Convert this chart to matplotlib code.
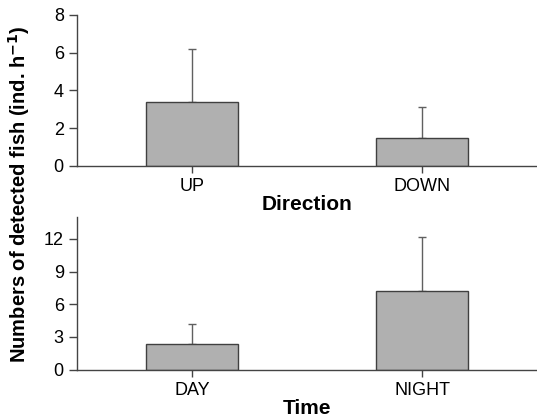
import matplotlib
matplotlib.use("Agg")
from matplotlib import pyplot as plt

plt.rcParams['font.family'] = ['Liberation Sans', 'DejaVu Sans']

# Data
dir_labels = ['UP', 'DOWN']
dir_means = [3.4, 1.5]
dir_err = [2.8, 1.6]

time_labels = ['DAY', 'NIGHT']
time_means = [2.4, 7.2]
time_err = [1.8, 5.0]

bar_color = '#b0b0b0'
edge_color = '#404040'
err_color = '#606060'

fig = plt.figure(figsize=(5.37, 4.2), dpi=100)
ax0 = fig.add_axes([0.1434, 0.6048, 0.8566, 0.3595])
ax1 = fig.add_axes([0.1434, 0.1198, 0.8566, 0.3635])


def draw(ax, labels, means, err, ylim, yticks, xlabel):
    x = range(len(labels))
    ax.bar(x, means, width=0.4, color=bar_color, edgecolor=edge_color,
           linewidth=1.0, zorder=2)
    ax.errorbar(x, means, yerr=[[0] * len(err), err], fmt='none',
                ecolor=err_color, elinewidth=1.0, capsize=3, capthick=1.0,
                zorder=1)
    ax.set_xlim(-0.5, 1.5)
    ax.set_ylim(*ylim)
    ax.set_yticks(yticks)
    ax.set_xticks(list(x))
    ax.set_xticklabels(labels)
    ax.set_xlabel(xlabel, fontsize=15, fontweight='bold', labelpad=0)
    ax.tick_params(axis='both', labelsize=13, direction='out', color='#444444')
    ax.tick_params(axis='y', length=5.5, width=1.0, pad=4)
    ax.tick_params(axis='x', length=5, width=1.0, pad=4)
    ax.spines['top'].set_visible(False)
    ax.spines['right'].set_visible(False)
    for s in ('left', 'bottom'):
        ax.spines[s].set_color('#444444')
        ax.spines[s].set_linewidth(1.0)


draw(ax0, dir_labels, dir_means, dir_err, (0, 8), [0, 2, 4, 6, 8], 'Direction')
draw(ax1, time_labels, time_means, time_err, (0, 14), [0, 3, 6, 9, 12], 'Time')

fig.text(0.036, 0.538, 'Numbers of detected fish (ind. h$^{\\mathbf{-1}}$)',
         rotation=90, ha='center', va='center', fontsize=14.5, fontweight='bold')

fig.savefig('out.png', dpi=100)
